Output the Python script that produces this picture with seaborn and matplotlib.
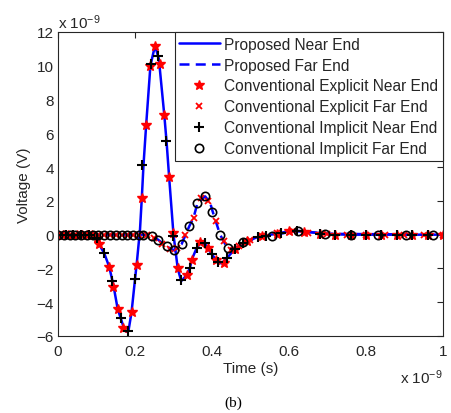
import numpy as np
import pandas as pd
import matplotlib
matplotlib.use("Agg")
import matplotlib.pyplot as plt
import seaborn as sns

# ---- data (time in 1e-9 s, voltage in 1e-9 V) ----
near_t = [0.0, 0.05, 0.09, 0.1, 0.105, 0.12, 0.133, 0.144, 0.155, 0.163, 0.17, 0.178,
          0.183, 0.191, 0.2, 0.205, 0.213, 0.218, 0.222, 0.229, 0.24, 0.252, 0.262,
          0.276, 0.282, 0.289, 0.3, 0.311, 0.32, 0.334, 0.343, 0.347, 0.36, 0.37,
          0.382, 0.399, 0.416, 0.425, 0.438, 0.46, 0.481, 0.516, 0.56, 0.6, 0.63,
          0.7, 0.75, 1.0]
near_v = [0.0, 0.0, 0.0, -0.2, -0.5, -1.1, -1.9, -3.0, -4.4, -4.95, -5.45, -5.75,
          -5.7, -4.6, -2.65, -1.6, 0.3, 2.3, 4.1, 6.5, 10.0, 11.2, 10.4,
          7.1, 5.5, 3.3, 0.0, -2.0, -2.75, -2.4, -1.95, -1.5, -0.8, -0.5,
          -0.55, -1.15, -1.65, -1.7, -1.4, -0.85, -0.5, -0.16, 0.03, 0.2, 0.2,
          0.05, 0.0, 0.0]

far_t = [0.0, 0.2, 0.222, 0.243, 0.26, 0.282, 0.302, 0.321, 0.341, 0.352, 0.362, 0.382,
         0.395, 0.402, 0.421, 0.44, 0.455, 0.481, 0.52, 0.555, 0.6, 0.624, 0.7, 1.0]
far_v = [0.0, 0.0, 0.0, -0.06, -0.3, -0.7, -0.93, -0.56, 0.5, 1.0, 1.85, 2.27,
         1.9, 1.35, 0.0, -0.8, -0.9, -0.5, -0.15, -0.05, 0.15, 0.22, 0.05, 0.0]

exp_near_t = [0.0, 0.0125, 0.025, 0.0375, 0.05, 0.0625, 0.075, 0.0875, 0.1, 0.106, 0.133,
              0.144, 0.155, 0.17, 0.191, 0.205, 0.217, 0.228, 0.239, 0.252, 0.265, 0.276,
              0.288, 0.3, 0.311, 0.334, 0.347, 0.369, 0.39, 0.41, 0.43, 0.46, 0.49, 0.53,
              0.57, 0.6, 0.64, 0.68, 0.72, 0.76, 0.8, 0.84, 0.88, 0.92, 0.96, 1.0]
exp_near_v = [0.0, 0.0, 0.0, 0.0, 0.0, 0.0, 0.0, 0.0, -0.2, -0.56, -1.94,
              -3.1, -4.4, -5.5, -4.6, -1.8, 2.2, 6.5, 10.0, 11.2, 10.1, 7.1,
              3.4, 0.1, -2.0, -2.4, -1.5, -0.45, -0.8, -1.5, -1.65, -0.85, -0.4, -0.1,
              0.05, 0.2, 0.15, 0.05, 0.0, 0.0, 0.0, 0.0, 0.0, 0.0, 0.0, 0.0]

exp_far_t = [0.0, 0.015, 0.03, 0.045, 0.06, 0.075, 0.09, 0.105, 0.12, 0.135, 0.15, 0.165,
             0.18, 0.195, 0.21, 0.232, 0.25, 0.27, 0.29, 0.31, 0.33, 0.352, 0.372, 0.39,
             0.41, 0.43, 0.45, 0.47, 0.5, 0.53, 0.57, 0.61, 0.65, 0.7, 0.75, 0.8, 0.85,
             0.9, 0.95, 1.0]
exp_far_v = [0.0, 0.0, 0.0, 0.0, 0.0, 0.0, 0.0, 0.0, 0.0, 0.0, 0.0, 0.0,
             0.0, 0.0, 0.0, -0.02, -0.2, -0.55, -0.85, -0.8, 0.0, 1.0, 2.15, 2.0,
             0.8, -0.4, -0.9, -0.7, -0.3, -0.1, 0.1, 0.2, 0.12, 0.05, 0.0, 0.0, 0.0,
             0.0, 0.0, 0.0]

imp_near_t = [0.0, 0.02, 0.04, 0.06, 0.08, 0.1, 0.12, 0.141, 0.163, 0.183, 0.2, 0.219,
              0.241, 0.26, 0.281, 0.3, 0.32, 0.343, 0.36, 0.382, 0.399, 0.416, 0.438,
              0.46, 0.481, 0.52, 0.54, 0.58, 0.62, 0.68, 0.72, 0.76, 0.8, 0.84, 0.88,
              0.92, 0.96]
imp_near_v = [0.0, 0.0, 0.0, 0.0, 0.0, -0.2, -1.1, -2.76, -4.93, -5.72, -2.65, 4.1,
              10.1, 10.6, 5.56, -0.06, -2.7, -1.98, -0.79, -0.5, -1.15, -1.64, -1.4,
              -0.85, -0.5, -0.15, -0.05, 0.1, 0.2, 0.05, 0.0, 0.0, 0.0, 0.0, 0.0,
              0.0, 0.0]

imp_far_t = [0.0, 0.015, 0.03, 0.045, 0.06, 0.075, 0.09, 0.105, 0.12, 0.135, 0.15, 0.165,
             0.18, 0.195, 0.21, 0.222, 0.243, 0.26, 0.282, 0.302, 0.321, 0.341, 0.362,
             0.382, 0.401, 0.421, 0.442, 0.481, 0.555, 0.624, 0.693, 0.762, 0.832,
             0.905, 0.975]
imp_far_v = [0.0, 0.0, 0.0, 0.0, 0.0, 0.0, 0.0, 0.0, 0.0, 0.0, 0.0, 0.0,
             0.0, 0.0, 0.0, 0.0, -0.06, -0.3, -0.7, -0.93, -0.56, 0.5, 1.85,
             2.27, 1.35, 0.0, -0.8, -0.46, -0.1, 0.22, 0.05, 0.0, 0.0,
             0.0, 0.0]

x_ticks = [0, 0.2, 0.4, 0.6, 0.8, 1]
x_ticklabels = ["0", "0.2", "0.4", "0.6", "0.8", "1"]
y_ticks = [-6, -4, -2, 0, 2, 4, 6, 8, 10, 12]

# ---- style ----
sns.set_style("white")
plt.rcParams["font.family"] = ["Liberation Sans", "DejaVu Sans"]
plt.rcParams["mathtext.default"] = "regular"
TXT = "#262626"

fig = plt.figure(figsize=(4.51, 4.14), dpi=100)
ax = fig.add_axes([58 / 451, 1 - 337 / 414, (443 - 58) / 451, (337 - 33) / 414])

def df(t, v):
    return pd.DataFrame({"t": t, "v": v})

sns.lineplot(data=df(near_t, near_v), x="t", y="v", ax=ax, sort=False, estimator=None,
             color="#0000ff", lw=1.8, label="Proposed Near End")
sns.lineplot(data=df(far_t, far_v), x="t", y="v", ax=ax, sort=False, estimator=None,
             color="#0000ff", lw=1.8, linestyle=(0, (4, 2.5)), label="Proposed Far End")
sns.lineplot(data=df(exp_near_t, exp_near_v), x="t", y="v", ax=ax, sort=False,
             estimator=None, color="red", linestyle="none", marker="*", markersize=7.5,
             markeredgecolor="red", markeredgewidth=1.0, label="Conventional Explicit Near End")
sns.lineplot(data=df(exp_far_t, exp_far_v), x="t", y="v", ax=ax, sort=False,
             estimator=None, color="red", linestyle="none", marker="x", markersize=4,
             markeredgecolor="red", markeredgewidth=1.3, label="Conventional Explicit Far End")
sns.lineplot(data=df(imp_near_t, imp_near_v), x="t", y="v", ax=ax, sort=False,
             estimator=None, color="black", linestyle="none", marker="+", markersize=7,
             markeredgecolor="black", markeredgewidth=1.5, label="Conventional Implicit Near End")
sns.lineplot(data=df(imp_far_t, imp_far_v), x="t", y="v", ax=ax, sort=False,
             estimator=None, color="black", linestyle="none", marker="o", markersize=6,
             markerfacecolor="none", markeredgecolor="black", markeredgewidth=1.2,
             label="Conventional Implicit Far End")

ax.set_xlim(0, 1)
ax.set_ylim(-6, 12)
ax.set_xticks(x_ticks)
ax.set_xticklabels(x_ticklabels)
ax.set_yticks(y_ticks)
ax.tick_params(direction="in", top=True, right=True, length=4, width=0.8,
               labelsize=11, colors=TXT, labelcolor=TXT, pad=3)
ax.tick_params(axis="x", pad=6)
for s in ax.spines.values():
    s.set_color(TXT)
    s.set_linewidth(0.8)
ax.set_xlabel("Time (s)", fontsize=11, color=TXT, labelpad=2)
ax.set_ylabel("Voltage (V)", fontsize=11, color=TXT, labelpad=4)

ax.text(0.0, 1.002, "x 10$^{-9}$", transform=ax.transAxes, fontsize=11, color=TXT,
        ha="left", va="bottom")
ax.text(1.0, -0.103, "x 10$^{-9}$", transform=ax.transAxes, fontsize=11, color=TXT,
        ha="right", va="top")
fig.text(233 / 451, 1 - 403 / 414, "(b)", fontsize=11, color="black",
         family="Liberation Serif", ha="center", va="center")

leg = ax.legend(loc="upper right", bbox_to_anchor=(1.0, 1.0), borderaxespad=0,
                fontsize=11.2, frameon=True, fancybox=False, handlelength=2.6,
                handletextpad=0.3, labelspacing=0.38, borderpad=0.3)
leg.get_frame().set_edgecolor(TXT)
leg.get_frame().set_linewidth(0.8)
leg.get_frame().set_alpha(1)
for t in leg.get_texts():
    t.set_color(TXT)

fig.savefig("out.png", dpi=100)
